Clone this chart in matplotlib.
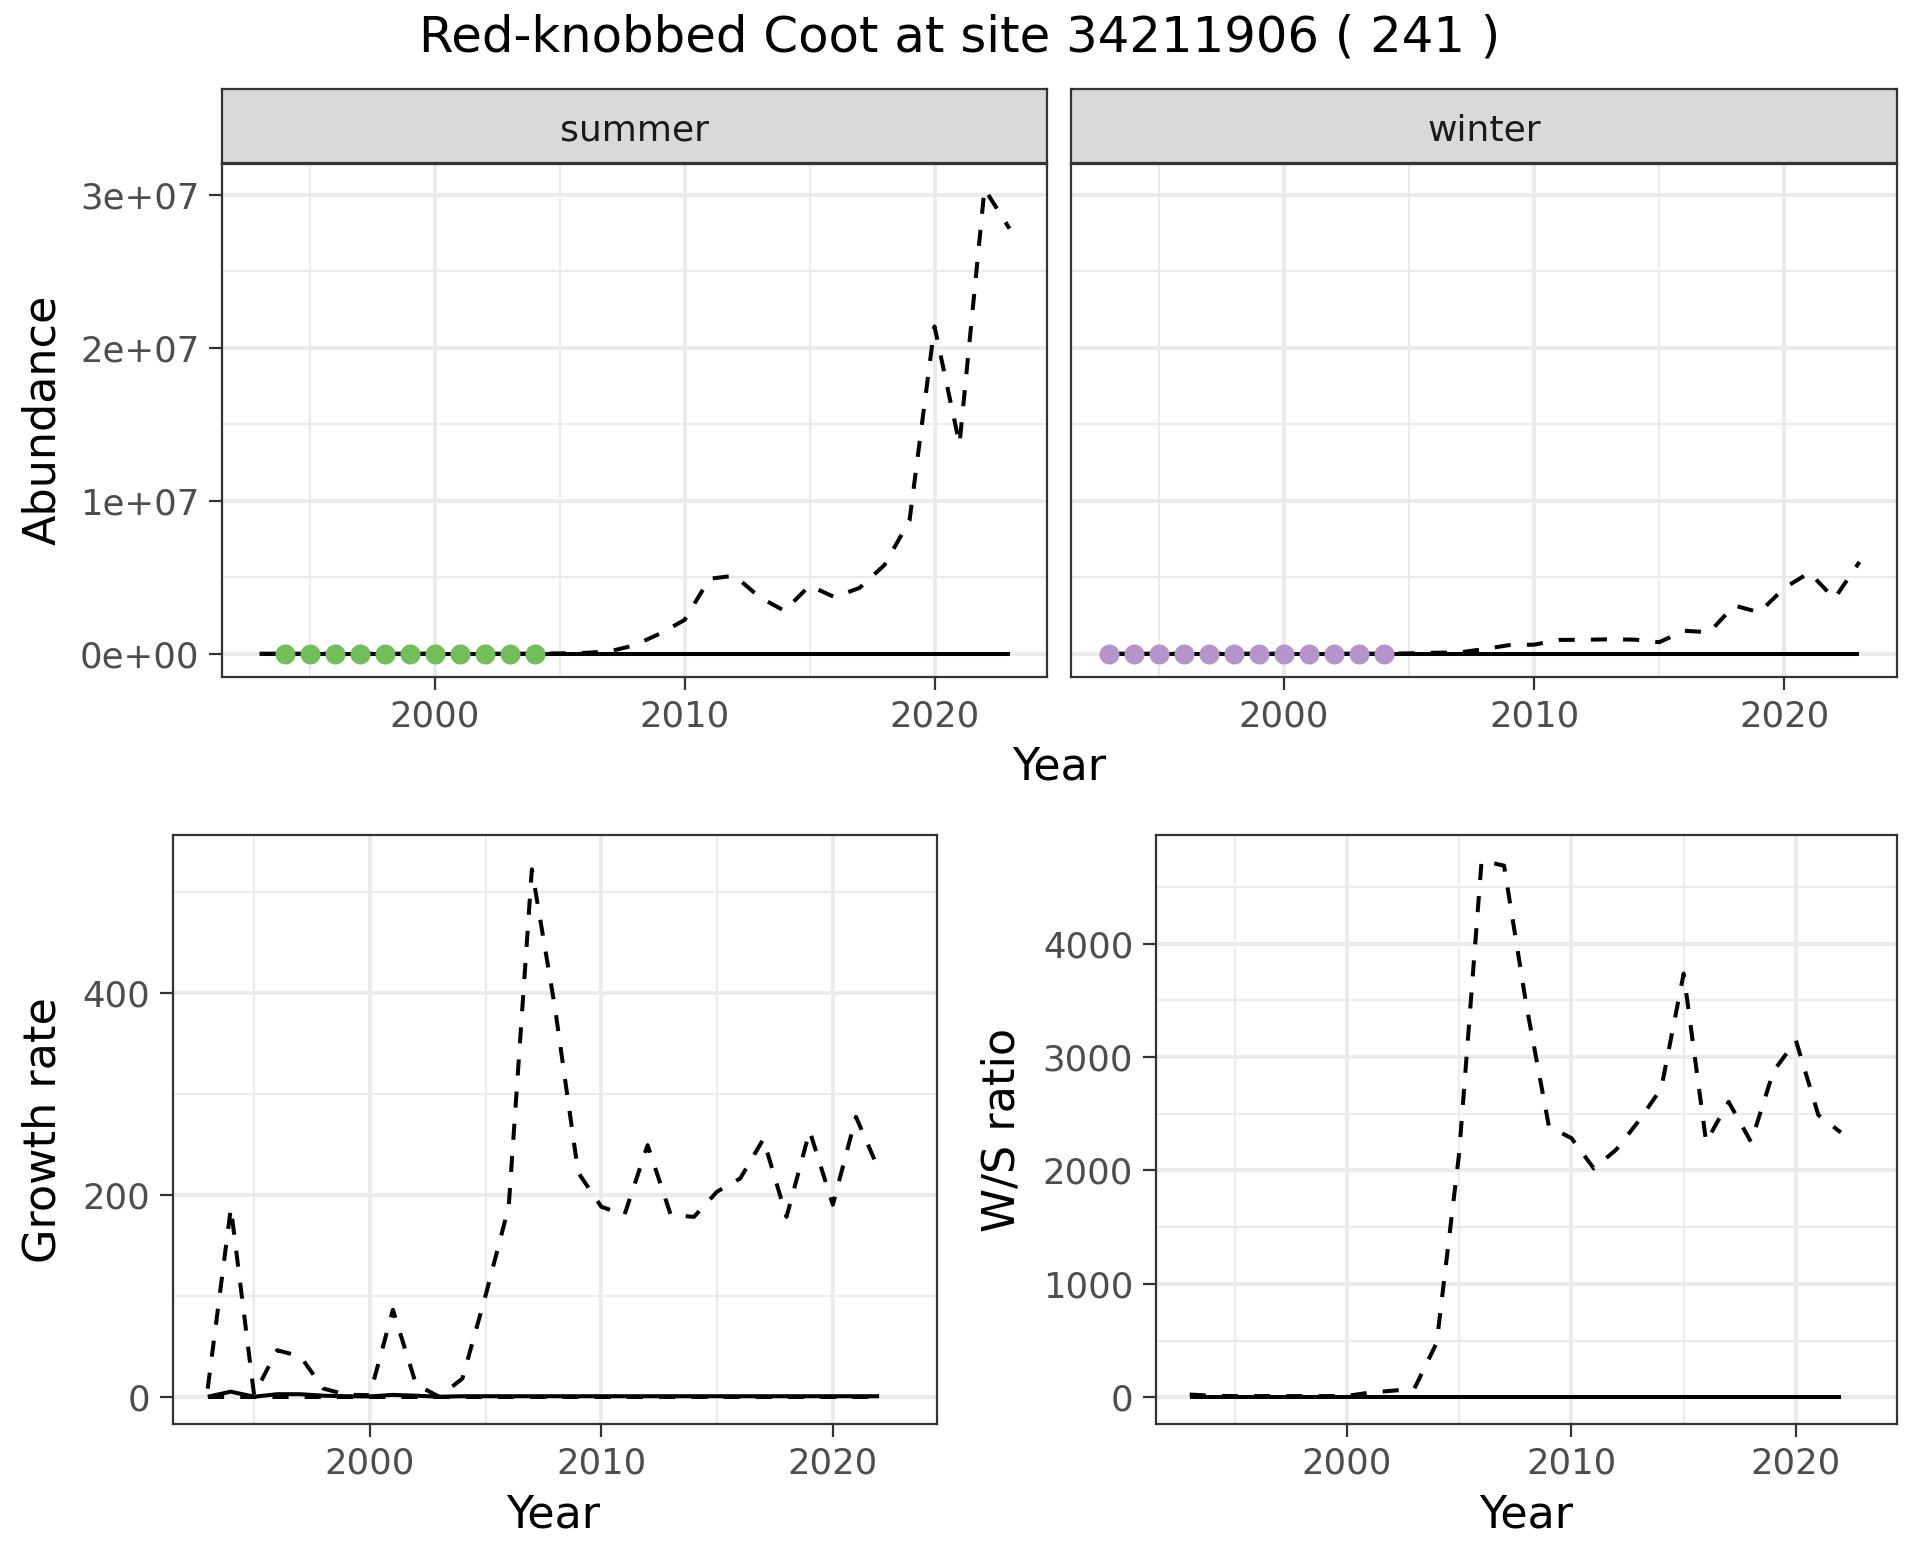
import matplotlib
matplotlib.use("Agg")
import matplotlib.pyplot as plt
import numpy as np

plt.rcParams['font.family'] = ['DejaVu Sans']

# ---------------- data ----------------
title = "Red-knobbed Coot at site 34211906 ( 241 )"
facets = ["summer", "winter"]

years_abund = list(range(1993, 2024))
summer_obs = [0] * 31
winter_obs = [0] * 31
summer_count_years = list(range(1994, 2005))
summer_counts = [0] * 11
winter_count_years = list(range(1993, 2005))
winter_counts = [0] * 12
summer_model = [0, 0, 0, 0, 0, 0, 0, 0, 0, 0, 0, 0,
                0.002e7, 0.005e7, 0.015e7, 0.055e7, 0.13e7, 0.22e7, 0.49e7, 0.51e7,
                0.37e7, 0.28e7, 0.445e7, 0.37e7, 0.43e7, 0.58e7, 0.87e7, 2.14e7,
                1.37e7, 3.04e7, 2.78e7]
winter_model = [0, 0, 0, 0, 0, 0, 0, 0, 0, 0, 0, 0,
                0.002e7, 0.006e7, 0.008e7, 0.03e7, 0.056e7, 0.059e7, 0.09e7, 0.091e7,
                0.094e7, 0.092e7, 0.075e7, 0.15e7, 0.14e7, 0.315e7, 0.27e7, 0.43e7,
                0.53e7, 0.36e7, 0.60e7]

years_rate = list(range(1993, 2023))
growth_obs = [0, 5, 0, 2.5, 2.5, 1, 0.5, 0.3, 1.8, 1, 0,
              0.5, 0.5, 0.5, 0.5, 0.5, 0.5, 0.5, 0.5, 0.5, 0.5, 0.5, 0.5, 0.5,
              0.5, 0.5, 0.5, 0.5, 0.5, 0.5]
growth_model = [8, 187, 2, 46, 40, 8, 2, 1.5, 86, 12, 0, 18, 100, 188, 522, 385,
                222, 188, 180, 249, 180, 178, 203, 216, 255, 178, 263, 190, 277, 224]
growth_model2 = [0] * 30

ws_obs = [1] * 30
ws_model = [24, 13, 10, 10, 10, 10, 10, 12, 40, 57, 74, 480, 2150, 4731, 4688, 3450,
            2386, 2285, 2017, 2184, 2437, 2723, 3736, 2251, 2605, 2251, 2875, 3145,
            2487, 2335]

abund_ticks = [0, 1e7, 2e7, 3e7]
abund_labels = ["0e+00", "1e+07", "2e+07", "3e+07"]
year_ticks = [2000, 2010, 2020]
growth_ticks = [0, 200, 400]
ws_ticks = [0, 1000, 2000, 3000, 4000]

green = "#72BF5A"
purple = "#B594CB"

# ---------------- layout ----------------
W, H = 1920, 1560
fig = plt.figure(figsize=(W / 200, H / 200), dpi=200)


def rect(l, t, r, b):
    return [l / W, 1 - b / H, (r - l) / W, (b - t) / H]


LW = 1.45
TICK_FS = 12.8
AX_FS = 16
GRID = "#EBEBEB"
BORDER = "#333333"


def style(ax, xmin, xmax, ymin, ymax, yticks, ylabels=None, minor_y=None, show_y=True):
    ax.set_xlim(xmin, xmax)
    ax.set_ylim(ymin, ymax)
    ax.set_xticks(year_ticks)
    ax.set_xticks([1995, 2005, 2015], minor=True)
    ax.set_yticks(yticks)
    if ylabels is not None:
        ax.set_yticklabels(ylabels)
    if minor_y is not None:
        ax.set_yticks(minor_y, minor=True)
    ax.grid(True, which="major", color=GRID, lw=1.42)
    ax.grid(True, which="minor", color=GRID, lw=0.75)
    ax.set_axisbelow(True)
    for s in ax.spines.values():
        s.set_color(BORDER)
        s.set_linewidth(0.8)
    ax.tick_params(which="major", length=4.7, width=0.8, color=BORDER,
                   labelsize=TICK_FS, labelcolor="#4D4D4D", pad=3.5)
    ax.tick_params(which="minor", length=0)
    if not show_y:
        ax.tick_params(axis="y", which="both", length=0, labelleft=False)


ABUND_YLIM = (-0.1525e7, 3.2025e7)
XLIM = (1991.5, 2024.5)

panels = [
    (facets[0], (222, 164, 1047, 677), summer_obs, summer_model, summer_count_years, summer_counts, green, True),
    (facets[1], (1071, 164, 1897, 677), winter_obs, winter_model, winter_count_years, winter_counts, purple, False),
]
for name, (l, t, r, b), obs, model, cy, cv, col, showy in panels:
    ax = fig.add_axes(rect(l, t, r, b))
    style(ax, *XLIM, *ABUND_YLIM, abund_ticks, abund_labels,
          minor_y=[0.5e7, 1.5e7, 2.5e7], show_y=showy)
    ax.plot(years_abund, model, color="black", lw=LW, ls=(0, (4, 4)), dash_capstyle="butt", zorder=2)
    ax.plot(years_abund, obs, color="black", lw=LW, solid_capstyle="butt", zorder=3)
    ax.plot(cy, cv, ls="none", marker="o", ms=7.2, mec="none", mfc=col, zorder=4)
    # strip
    sax = fig.add_axes(rect(l, 89, r, 163))
    sax.set_facecolor("#D9D9D9")
    sax.set_xticks([])
    sax.set_yticks([])
    for s in sax.spines.values():
        s.set_color(BORDER)
        s.set_linewidth(0.8)
    sax.text(0.5, 0.44, name, transform=sax.transAxes, ha="center", va="center",
             fontsize=13, color="#1A1A1A")

# growth rate
ax = fig.add_axes(rect(173, 835, 937, 1424))
style(ax, *XLIM, -27, 556, growth_ticks, minor_y=[100, 300, 500])
ax.plot(years_rate, growth_model2, color="black", lw=LW, ls=(0, (4, 4)), zorder=2)
ax.plot(years_rate, growth_model, color="black", lw=LW, ls=(0, (4, 4)), zorder=2)
ax.plot(years_rate, growth_obs, color="black", lw=LW, solid_capstyle="butt", zorder=3)

# W/S ratio
ax = fig.add_axes(rect(1156, 835, 1897, 1424))
style(ax, *XLIM, -236, 4958, ws_ticks, minor_y=[500, 1500, 2500, 3500, 4500])
ax.plot(years_rate, ws_model, color="black", lw=LW, ls=(0, (4, 4)), zorder=2)
ax.plot(years_rate, ws_obs, color="black", lw=LW, solid_capstyle="butt", zorder=3)

# texts
fig.text(960 / W, 1 - 37 / H, title, ha="center", va="center", fontsize=17.9, color="black")
fig.text(43 / W, 1 - 420 / H, "Abundance", rotation=90, ha="center", va="center", fontsize=AX_FS)
fig.text(1059 / W, 1 - 767 / H, "Year", ha="center", va="center", fontsize=AX_FS)
fig.text(43 / W, 1 - 1130 / H, "Growth rate", rotation=90, ha="center", va="center", fontsize=AX_FS)
fig.text(1002 / W, 1 - 1130 / H, "W/S ratio", rotation=90, ha="center", va="center", fontsize=AX_FS)
fig.text(553 / W, 1 - 1515 / H, "Year", ha="center", va="center", fontsize=AX_FS)
fig.text(1526 / W, 1 - 1515 / H, "Year", ha="center", va="center", fontsize=AX_FS)

fig.savefig("out.png", dpi=200, facecolor="white")
